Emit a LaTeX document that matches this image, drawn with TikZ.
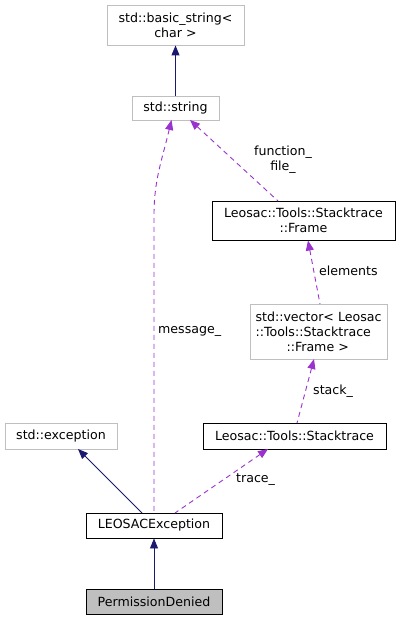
\documentclass[tikz,border=0pt]{standalone}
\usepackage{fontspec}
\setmainfont{DejaVu Sans}
\usetikzlibrary{arrows.meta}
\definecolor{inh}{HTML}{191970}
\definecolor{dep}{HTML}{9A32CD}
\definecolor{lgray}{HTML}{BFBFBF}
\tikzset{
  box/.style={draw=black, line width=0.9pt, fill=white, inner sep=0pt, align=center,
    font=\fontsize{12.6}{15}\selectfont, anchor=center},
  extbox/.style={box, draw=lgray},
  inhedge/.style={draw=inh, line width=0.9pt, {Triangle[length=10pt,width=8pt]}-},
  depedge/.style={draw=dep, line width=0.9pt, dash pattern=on 5pt off 4pt, {Triangle[length=10pt,width=8pt]}-},
  lbl/.style={font=\fontsize{12.6}{15}\selectfont, align=center, inner sep=0pt}
}
\begin{document}
\begin{tikzpicture}[x=1pt,y=-1pt]
\useasboundingbox (0,0) rectangle (406,620);
\node[extbox, minimum width=137pt, minimum height=40pt] (bs) at (175.5,25) {std::basic\_string<\\char >};
\node[extbox, minimum width=87pt, minimum height=24pt] (str) at (175.5,108) {std::string};
\node[box, minimum width=183pt, minimum height=39pt] (frame) at (303.5,220.5) {Leosac::Tools::Stacktrace\\::Frame};
\node[extbox, align=left, minimum width=137pt, minimum height=55pt] (vec) at (318.5,331.5) {std::vector< Leosac\\::Tools::Stacktrace\\\hspace*{31pt}::Frame >};
\node[box, minimum width=183pt, minimum height=26pt] (st) at (294.5,436) {Leosac::Tools::Stacktrace};
\node[extbox, minimum width=112pt, minimum height=26pt] (exc) at (61,436) {std::exception};
\node[box, minimum width=136pt, minimum height=25pt] (leo) at (154,525.5) {LEOSACException};
\node[box, fill=lgray, minimum width=136pt, minimum height=25pt] (pd) at (154,601.5) {PermissionDenied};

\coordinate (strA) at (171.5,120);
\coordinate (strB) at (190,120);
\coordinate (leoA) at (154,513);
\coordinate (leoB) at (142,513);
\coordinate (leoC) at (175,513);
\coordinate (frA) at (278,201);
\coordinate (frB) at (308,240.5);
\coordinate (vecA) at (320,304);
\coordinate (vecB) at (314,359);
\coordinate (stA) at (297,423);
\coordinate (stB) at (268,449);
\coordinate (excA) at (78,449);

\draw[inhedge] (bs.south) -- (str.north);
\draw[depedge] (strA) .. controls (162,160) and (154,180) .. (154,215) -- (leoA);
\draw[depedge] (strB) -- (frA);
\draw[depedge] (frB) -- (vecA);
\draw[depedge] (vecB) -- (stA);
\draw[depedge] (stB) -- (leoC);
\draw[inhedge] (excA) -- (leoB);
\draw[inhedge] (leo.south) -- (pd.north);

\node[lbl, anchor=west] (lm) at (158,331) {message\_};
\node[lbl] (lf) at (283,160) {function\_\\file\_};
\node[lbl, anchor=west] (le) at (319,271) {elements};
\node[lbl, anchor=west] (ls) at (313,391) {stack\_};
\node[lbl, anchor=west] (lt) at (236,480) {trace\_};
\end{tikzpicture}
\end{document}
